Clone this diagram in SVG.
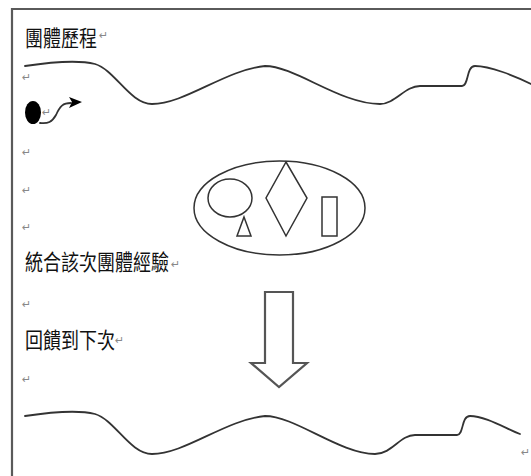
<svg xmlns="http://www.w3.org/2000/svg" width="531" height="476" viewBox="0 0 531 476">
<style>
.frame{stroke:#5a5a5a;stroke-width:2.2;fill:none}
.wave{stroke:#333;stroke-width:1.8;fill:none;stroke-linecap:round}
.shape{stroke:#333;stroke-width:1.5;fill:#fff}
.blk{stroke:#555;stroke-width:2.2;fill:#fff;stroke-linejoin:miter}
.t{font-family:"Noto Sans CJK TC","Noto Sans CJK SC",sans-serif;font-size:18px;fill:#111}
.r{font-family:"DejaVu Sans",sans-serif;font-size:11px;fill:#888}
</style>
<rect width="531" height="476" fill="#fff"/>
<g id="frame">
<line class="frame" x1="12" y1="9" x2="531" y2="9"/>
<line class="frame" x1="12" y1="8" x2="12" y2="476"/>
</g>
<g id="title">
<text class="t" transform="translate(25,46) scale(1,1.18)">團體歷程</text>
<text class="r" x="99" y="39">↵</text>
</g>
<g id="wave-top">
<path class="wave" d="M25,66 C45,63 75,59 95,64 C115,70 130,104 152,104 C185,104 225,70 265,66 C295,66 340,104 380,104 C395,104 405,86 420,86 L462,86 C469,86 466,66 475,66 C490,66 515,76 531,84"/>
</g>
<g id="ball">
<ellipse cx="33" cy="112.5" rx="8" ry="11.5" fill="#000"/>
</g>
<g id="returns">
<text class="r" x="22" y="81">↵</text>
<text class="r" x="42" y="116">↵</text>
<text class="r" x="22" y="156">↵</text>
<text class="r" x="22" y="194">↵</text>
<text class="r" x="22" y="231">↵</text>
<text class="r" x="22" y="308">↵</text>
<text class="r" x="22" y="383">↵</text>
<text class="r" x="521" y="456">↵</text>
</g>
<g id="group-shapes">
<ellipse class="shape" cx="279.5" cy="208" rx="85.5" ry="47"/>
<ellipse class="shape" cx="230" cy="198" rx="22" ry="19"/>
<polygon class="shape" points="244,217 251,236 237,236"/>
<polygon class="shape" points="286,162 307,198 286,236 266,198"/>
<rect class="shape" x="322" y="197" width="15" height="39"/>
</g>
<g id="integrate">
<text class="t" transform="translate(25,270) scale(1,1.18)">統合該次團體經驗</text>
<text class="r" x="171" y="268">↵</text>
</g>
<g id="feedback">
<text class="t" transform="translate(25,348) scale(1,1.18)">回饋到下次</text>
<text class="r" x="115" y="344">↵</text>
</g>
<g id="down-arrow">
<polygon class="blk" points="265,292 293,292 293,363 307,363 279,387 251,363 265,363"/>
</g>
<g id="wave-bottom">
<path class="wave" d="M25,416 C45,413 75,409 95,414 C115,420 130,454 152,454 C185,454 225,420 265,416 C295,416 340,454 375,454 C392,454 400,435 415,435 L457,435 C464,435 461,416 470,416 C485,416 505,428 520,434"/>
</g>
<g id="connectors">
<path class="wave" d="M40,123 C48,124 52,122 56,115 C60,106 63,103 71,103"/>
<polygon points="69,97 82,102 69,108 72,102" fill="#000"/>
</g>
</svg>
